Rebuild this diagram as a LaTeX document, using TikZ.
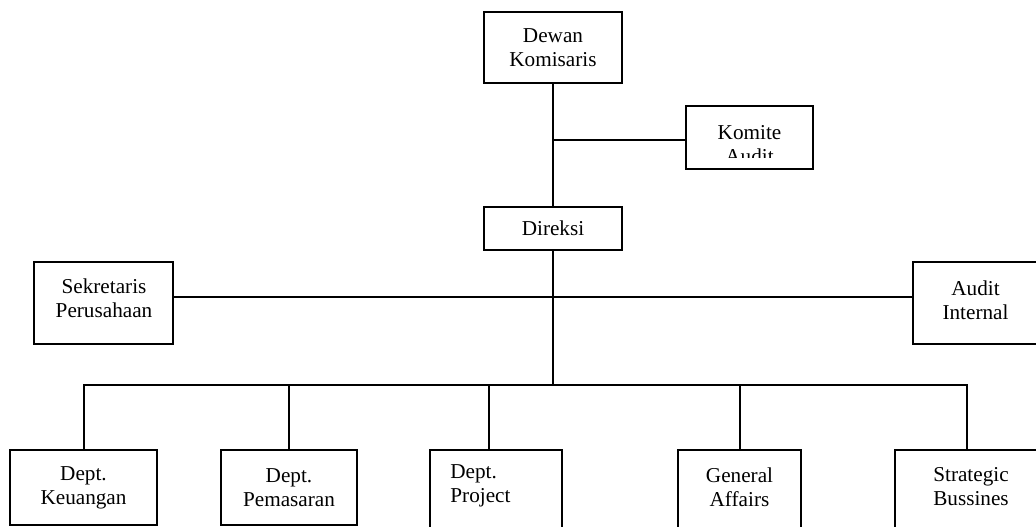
\documentclass[tikz,border=0pt]{standalone}
\usepackage{fontspec}
\setmainfont{Liberation Serif}
\begin{document}
\begin{tikzpicture}[x=0.5pt,y=-0.5pt,
  box/.style={draw, line width=1pt, rectangle, inner sep=0pt},
  txt/.style={align=center, inner sep=0pt, font=\fontsize{10.6}{12}\selectfont},
  conn/.style={line width=1pt}]
\useasboundingbox (0,0) rectangle (1036,526);
\clip (0,0) rectangle (1036,526);
% top
\node[box,txt,minimum width=69pt,minimum height=35.5pt] (dewan) at (553,47.5) {Dewan\\Komisaris};
\node[box,minimum width=63.5pt,minimum height=31.5pt] (komite) at (749.5,137.5) {};
\begin{scope}
\clip (686,106) rectangle (813,157);
\node[txt] (komitetxt) at (749.5,144.5) {Komite\\Audit};
\end{scope}
\node[box,txt,minimum width=69pt,minimum height=21.5pt] (direksi) at (553,228.5) {Direksi};
% side
\node[box,minimum width=69.5pt,minimum height=41pt] (sek) at (103.5,303) {};
\node[txt] (sektxt) at (104,298.5) {Sekretaris\\Perusahaan};
\node[box,minimum width=62.5pt,minimum height=41pt] (aud) at (975.5,303) {};
\node[txt] (audtxt) at (975.5,300) {Audit\\Internal};
% bottom
\node[box,txt,minimum width=73.5pt,minimum height=37.5pt] (keu) at (83.5,487.5) {Dept.\\Keuangan};
\node[box,txt,minimum width=68pt,minimum height=37.5pt] (pem) at (289,487.5) {Dept.\\Pemasaran};
\node[box,minimum width=66pt,minimum height=42.5pt] (proj) at (496,492.5) {};
\node[txt,align=left,anchor=west] (projtxt) at (450,486) {Dept.\\Project};
\node[box,minimum width=61.5pt,minimum height=42.5pt] (gen) at (739.5,492.5) {};
\node[txt] (gentxt) at (739.5,487) {General\\Affairs};
\node[box,minimum width=75.5pt,minimum height=42.5pt] (stra) at (970.5,492.5) {};
\node[txt] (stratxt) at (971,486.5) {Strategic\\Bussines};
% connectors
\draw[conn] (dewan.south) -- (direksi.north);
\coordinate (kj) at (553,140);
\draw[conn] (kj) -- (kj -| komite.west);
\coordinate (sj) at (553,297);
\draw[conn] (sj -| sek.east) -- (sj -| aud.west);
\coordinate (bus) at (553,385);
\coordinate (pdrop) at (489,385);
\coordinate (sdrop) at (967,385);
\draw[conn] (direksi.south) -- (bus);
\draw[conn] (keu.north) -- (keu.north |- bus) -- (sdrop) -- (sdrop |- stra.north);
\draw[conn] (pem.north) -- (pem.north |- bus);
\draw[conn] (pdrop) -- (pdrop |- proj.north);
\draw[conn] (gen.north) -- (gen.north |- bus);
\end{tikzpicture}
\end{document}
